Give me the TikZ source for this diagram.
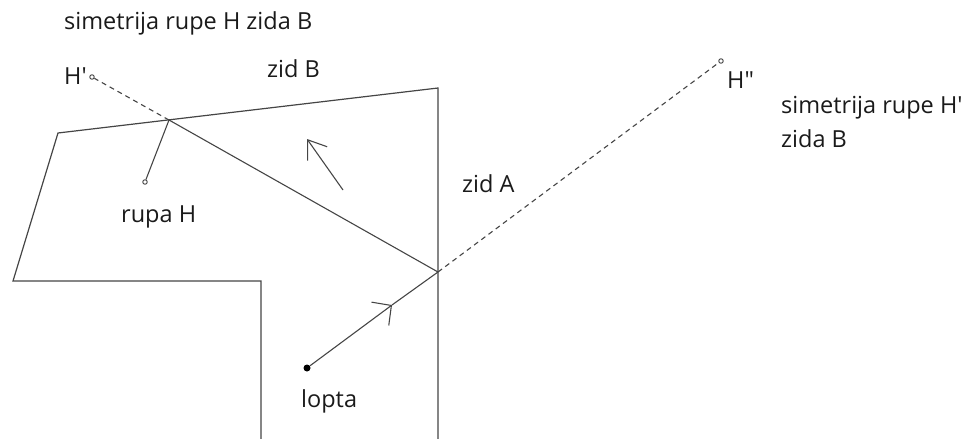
\documentclass[tikz,border=0pt]{standalone}
\usepackage{fontspec}
\setmainfont{Open Sans}
\usetikzlibrary{arrows.meta}
\definecolor{linec}{HTML}{454545}
\definecolor{textc}{HTML}{1A1A1A}
\begin{document}
\begin{tikzpicture}[x=1pt,y=-1pt,
  wall/.style={draw=linec,line width=1.2pt},
  ray/.style={draw=linec,line width=1.1pt},
  dray/.style={draw=linec,line width=1.1pt,dash pattern=on 5pt off 4pt},
  hole/.style={circle,draw=linec,line width=0.9pt,minimum size=4.5pt,inner sep=0pt},
  ballst/.style={circle,fill=black,minimum size=7pt,inner sep=0pt},
  lbl/.style={anchor=base west,inner sep=0pt,text=textc,font=\fontsize{23.5}{28}\selectfont},
  barbA/.style={-{Straight Barb[length=14pt,width=29pt,line width=1.1pt]}},
  barbB/.style={-{Straight Barb[length=17pt,width=24pt,line width=1.1pt]}}]
\useasboundingbox (0,0) rectangle (970,439);
% walls
\coordinate (TR) at (438,88);
\coordinate (TL) at (58,133);
\coordinate (L) at (13,281);
\coordinate (IC) at (261,281);
\coordinate (IB) at (261,439);
\coordinate (RB) at (438,439);
\draw[wall] (IB) -- (IC) -- (L) -- (TL) -- (TR) -- (RB);
% points
\coordinate (PB) at (169,120);
\coordinate (PA) at (438,272);
\coordinate (m1) at (392,305);
\coordinate (a1) at (343,190);
\coordinate (a2) at (307,139);
\node[ballst] (ball) at (307,368) {};
\node[hole] (H) at (145,182) {};
\node[hole] (H1) at (92,77) {};
\node[hole] (H2) at (721,61) {};
% rays
\draw[ray,barbA] (ball) -- (m1);
\draw[ray] (m1) -- (PA);
\draw[ray] (PA) -- (PB);
\draw[ray] (PB) -- (H);
\draw[dray] (PB) -- (H1);
\draw[dray] (PA) -- (H2);
\draw[ray,barbB] (a1) -- (a2);
% labels
\node[lbl] (t1) at (64,30) {simetrija rupe H zida B};
\node[lbl] (t2) at (64,84) {H\textquotesingle};
\node[lbl] (t3) at (267,77) {zid B};
\node[lbl] (t4) at (121,222) {rupa H};
\node[lbl] (t5) at (462,192) {zid A};
\node[lbl] (t6) at (301,407) {lopta};
\node[lbl] (t7) at (727,88) {H\textquotedbl};
\node[lbl] (t8) at (781,113) {simetrija rupe H\textquotesingle};
\node[lbl] (t9) at (781,147) {zida B};
\end{tikzpicture}
\end{document}
